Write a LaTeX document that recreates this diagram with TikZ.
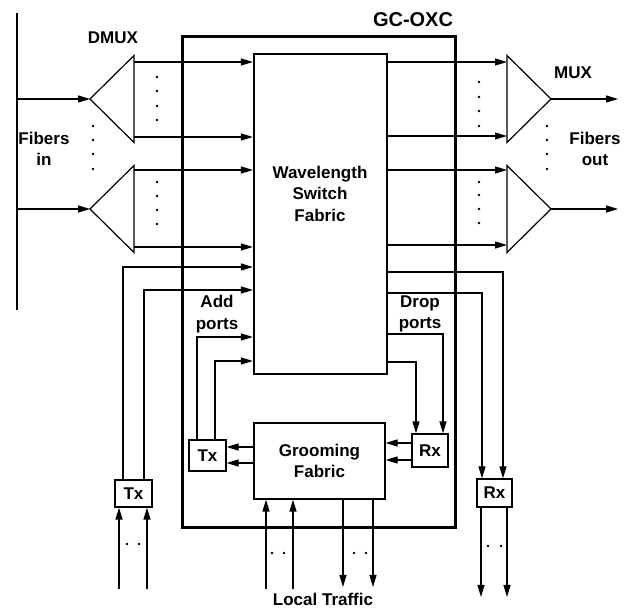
\documentclass[tikz,border=0pt]{standalone}
\usepackage{fontspec}
\setmainfont{Liberation Sans}
\usetikzlibrary{arrows.meta, positioning, shapes.geometric}
\tikzset{lbl/.style={font=\fontsize{17}{21.5}\selectfont\bfseries,align=center,inner sep=0},box/.style={rectangle,draw,line width=1.2pt,inner sep=0,align=center,font=\fontsize{17}{21.5}\selectfont\bfseries},fabric/.style={rectangle,draw,line width=2.2pt,inner sep=0},oxc/.style={rectangle,draw,line width=3pt,minimum width=273,minimum height=491},tri/.style={isosceles triangle,isosceles triangle stretches,draw,line width=1.2pt,inner sep=0,outer sep=0,minimum width=87,minimum height=44},line/.style={-{Triangle[length=12pt,width=7pt]},line width=1.2pt}}

\begin{document}
\begin{tikzpicture}[x=1pt,y=-1pt]
\useasboundingbox (0,0) rectangle (633,609);
\node[oxc] (oxc) at (318.5,282.5) {};
\node[lbl,font=\fontsize{20}{24}\selectfont\bfseries] (title) at (413,20) {GC-OXC};
\node[fabric,minimum width=133,minimum height=320] (wsf) at (320.5,214) {};
\node[lbl] (wsftxt) at (320,193.5) {Wavelength\\Switch\\Fabric};
\node[box,minimum width=131,minimum height=76] (grm) at (319.5,461) {Grooming\\Fabric};
\node[box,minimum width=37,minimum height=27] (txo) at (133.5,493.5) {Tx};
\node[box,minimum width=37,minimum height=31] (txi) at (207.5,455.5) {Tx};
\node[box,minimum width=36,minimum height=33] (rxi) at (430,450.5) {Rx};
\node[box,minimum width=35,minimum height=28] (rxo) at (494.5,493) {Rx};
% (de)multiplexers
\node[tri,shape border rotate=180,anchor=apex] (dm1) at (90,99) {};
\node[tri,shape border rotate=180,anchor=apex] (dm2) at (90,209) {};
\node[tri,anchor=apex] (mx1) at (551,99) {};
\node[tri,anchor=apex] (mx2) at (551,209) {};
% labels
\node[lbl] (ldmux) at (113,38) {DMUX};
\node[lbl] (lmux) at (573,73) {MUX};
\node[lbl] (lfin) at (44,149) {Fibers\\in};
\node[lbl] (lfout) at (595,149) {Fibers\\out};
\node[lbl] (ladd) at (217,314) {Add\\ports};
\node[lbl] (ldrop) at (420,314) {Drop\\ports};
\node[lbl] (llocal) at (323,599) {Local Traffic};
% fibers
\draw[line width=1.2pt] (17,13) -- (17,310);
\coordinate (fin1) at (17,99);
\coordinate (fin2) at (17,209);
\coordinate (fout1) at (618,99);
\coordinate (fout2) at (618,209);
\draw[line] (fin1) -- (dm1.apex);
\draw[line] (fin2) -- (dm2.apex);
\draw[line] (mx1.apex) -- (fout1);
\draw[line] (mx2.apex) -- (fout2);
\foreach \d/\y in {dm1/62,dm1/137,dm2/170,dm2/247} \draw[line] (\d.east |- 0,\y) -- (wsf.west |- 0,\y);
\foreach \m/\y in {mx1/62,mx1/136,mx2/170,mx2/245} \draw[line] (wsf.east |- 0,\y) -- (\m.west |- 0,\y);
% add and drop ports
\draw[line] ([xshift=-10.5]txo.north) |- (wsf.west |- 0,267);
\draw[line] ([xshift=10.5]txo.north) |- (wsf.west |- 0,290);
\draw[line] ([xshift=-10.5]txi.north) |- (wsf.west |- 0,337);
\draw[line] ([xshift=7.5]txi.north) |- (wsf.west |- 0,361);
\draw[line] (wsf.east |- 0,272) -| ([xshift=8.5]rxo.north);
\draw[line] (wsf.east |- 0,293) -| ([xshift=-12.5]rxo.north);
\draw[line] (wsf.east |- 0,334) -| ([xshift=13]rxi.north);
\draw[line] (wsf.east |- 0,362) -| ([xshift=-14]rxi.north);
\foreach \y in {447,463} \draw[line] (grm.west |- 0,\y) -- (txi.east |- 0,\y);
\foreach \y in {443,460} \draw[line] (rxi.west |- 0,\y) -- (grm.east |- 0,\y);
% local traffic
\foreach \x [count=\i] in {119,147} {\coordinate (tin\i) at (\x,589); \draw[line] (tin\i) -- (tin\i |- txo.south);}
\foreach \x [count=\i] in {266,293} {\coordinate (lin\i) at (\x,589); \draw[line] (lin\i) -- (lin\i |- grm.south);}
\foreach \x [count=\i] in {343,373} {\coordinate (lout\i) at (\x,587); \draw[line] (lout\i |- grm.south) -- (lout\i);}
\foreach \x [count=\i] in {481,507} {\coordinate (rout\i) at (\x,597); \draw[line] (rout\i |- rxo.south) -- (rout\i);}
% dots
\foreach \y in {77,91,106,120,182,196,210,224} \fill (157,\y) circle (1.4pt);
\foreach \y in {82,97,111,126,182,195,209,223} \fill (479,\y) circle (1.4pt);
\foreach \y in {126,140,154,169} {\fill (93,\y) circle (1.4pt); \fill (547,\y) circle (1.4pt);}
\foreach \x/\y in {127/544,139/544,272/553,284/553,354/553,366/553,488/546,501/546} \fill (\x,\y) circle (1.4pt);
\end{tikzpicture}
\end{document}
